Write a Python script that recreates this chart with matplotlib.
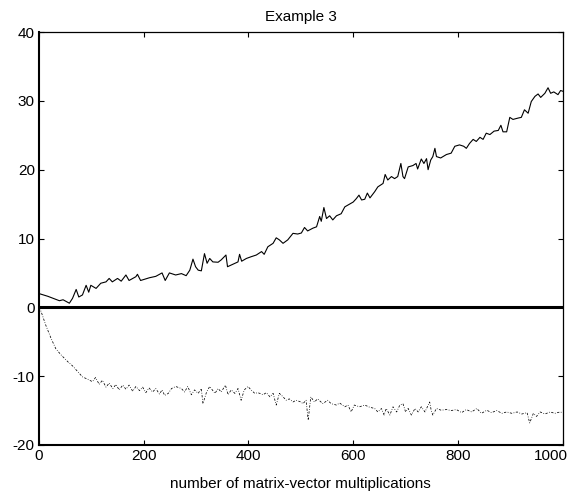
import matplotlib
matplotlib.use('Agg')
import matplotlib.pyplot as plt
import matplotlib.transforms as mtransforms

plt.rcParams['font.family'] = ['Liberation Sans', 'DejaVu Sans']
plt.rcParams['axes.unicode_minus'] = False

# upper (solid) curve
upper_x = [0, 17, 39, 46, 58, 64, 71, 76, 83, 90, 95, 99, 109, 118, 128, 134, 140, 150,
           157, 166, 172, 185, 188, 194, 211, 223, 235, 241, 249, 253, 261, 272, 281, 288,
           294, 299, 304, 310, 316, 321, 326, 332, 342, 348, 357, 360, 370, 380, 383, 387,
           396, 405, 415, 425, 430, 437, 447, 453, 459, 466, 475, 485, 494, 501, 507, 513,
           523, 530, 536, 539, 544, 549, 555, 561, 568, 577, 584, 593, 600, 606, 611, 616,
           622, 627, 632, 641, 647, 657, 661, 666, 673, 679, 685, 691, 695, 698, 705, 714,
           720, 723, 730, 735, 740, 743, 748, 752, 756, 759, 767, 778, 787, 794, 803, 811,
           816, 822, 829, 835, 842, 848, 854, 861, 869, 877, 882, 886, 893, 899, 905, 915,
           921, 927, 934, 940, 947, 953, 958, 966, 972, 977, 983, 991, 996, 1000]
upper_y = [2.0, 1.6, 0.96, 1.1, 0.6, 1.3, 2.6, 1.5, 1.8, 3.2, 2.2, 3.2, 2.75, 3.5, 3.7, 4.2,
           3.7, 4.2, 3.8, 4.7, 3.9, 4.45, 4.8, 3.9, 4.3, 4.5, 5.0, 3.9, 5.0, 4.9, 4.7, 4.9,
           4.6, 5.4, 7.0, 5.9, 5.4, 5.3, 7.8, 6.4, 7.1, 6.6, 6.55, 6.9, 7.6, 5.9, 6.25, 6.6,
           7.7, 6.7, 7.1, 7.35, 7.6, 8.1, 7.7, 8.8, 9.3, 10.1, 9.8, 9.3, 9.8, 10.75, 10.65,
           10.8, 11.6, 11.1, 11.5, 11.7, 13.2, 12.5, 14.5, 12.9, 13.3, 12.7, 13.3, 13.6, 14.6,
           15.0, 15.3, 15.8, 16.3, 15.6, 15.7, 16.6, 15.9, 16.8, 17.5, 18.0, 19.3, 18.5, 19.0,
           18.7, 19.0, 20.9, 19.0, 18.7, 20.4, 20.6, 20.9, 20.1, 21.55, 20.9, 21.6, 20.0, 21.4,
           21.9, 23.1, 21.9, 21.7, 22.2, 22.4, 23.4, 23.6, 23.4, 23.1, 23.8, 24.4, 24.1, 24.7,
           24.4, 25.3, 25.1, 25.6, 25.7, 26.45, 25.5, 25.5, 27.6, 27.3, 27.5, 27.6, 28.7, 28.2,
           29.9, 30.65, 31.0, 30.5, 31.1, 31.9, 31.1, 31.3, 30.9, 31.5, 31.4]

# lower (dash-dot) curve
lower_x = [0, 4, 13, 23, 32, 42, 55, 64, 74, 83, 93, 102, 108, 115, 121, 128, 134, 141, 147,
           153, 160, 166, 172, 179, 185, 192, 198, 204, 210, 217, 223, 230, 235, 240,
           247, 253, 261, 272, 278, 284, 291, 297, 304, 310, 313, 320, 326,
           336, 342, 348, 356, 361, 367, 374, 380, 386, 392, 399, 405, 412, 418, 428, 434, 441,
           447, 453, 459, 466, 472, 478, 485, 491, 500, 504, 510, 514, 519, 526, 532, 542, 551,
           558, 568, 574, 584, 590, 596, 602, 612, 622, 631, 641, 647, 654, 659, 663, 670, 676,
           683, 689, 695, 700, 705, 711, 718, 724, 730, 737, 746, 749, 752, 759, 768, 778, 787,
           797, 807, 816, 826, 836, 845, 855, 864, 874, 884, 893, 903, 913, 922, 932, 937, 944,
           950, 957, 966, 976, 985, 995, 1000]
lower_y = [0.0, -0.6, -2.6, -4.5, -6.0, -6.9, -7.9, -8.5, -9.35, -10.1, -10.45, -10.8, -10.2,
           -11.2, -10.6, -11.6, -11.0, -11.8, -11.2, -12.0, -11.3, -11.9, -11.3, -12.2, -11.5,
           -12.1, -11.6, -12.4, -11.7, -12.3, -11.8, -12.6, -12.0, -12.8,
           -12.5, -11.8,
           -11.5, -11.8, -12.3, -11.5, -12.7, -12.0, -12.5, -11.8, -14.0, -12.3, -11.5, -12.5,
           -11.8, -12.3, -11.3, -12.7, -12.0, -12.5, -11.8, -13.5, -12.0, -11.5, -12.0, -12.5,
           -12.4, -12.7, -12.4, -13.0, -12.5, -14.2, -12.5, -13.0, -13.5, -13.3, -13.75, -13.5,
           -13.75, -14.0, -13.5, -16.4, -13.0, -13.75, -13.3, -14.0, -13.5, -14.0, -14.2, -13.9,
           -14.45, -14.2, -15.2, -14.2, -14.45, -14.2, -14.5, -14.7, -15.2, -14.7, -15.65, -14.7,
           -15.65, -14.45, -15.2, -14.2, -14.0, -15.2, -14.7, -15.65, -14.7, -15.2, -14.45, -15.2,
           -13.75, -15.0, -15.65, -14.7, -14.95, -14.85, -15.0, -14.85, -15.3, -14.85, -15.2,
           -14.7, -15.4, -14.95, -15.3, -15.0, -15.4, -15.2, -15.4, -15.2, -15.5, -15.3, -16.8,
           -15.4, -15.85, -15.2, -15.5, -15.2, -15.4, -15.2, -15.3]

# thick zero line
zero_x = [0, 1000]
zero_y = [0, 0]

x_ticks = [0, 200, 400, 600, 800, 1000]
y_ticks = [-20, -10, 0, 10, 20, 30, 40]

fig = plt.figure(figsize=(5.75, 5.01), dpi=100)
ax = fig.add_axes([0.0678, 0.1118, 0.9108, 0.8243])

ax.plot(upper_x, upper_y, color='black', linewidth=0.8)
ax.plot(zero_x, zero_y, color='black', linewidth=2.2)
ax.plot(lower_x, lower_y, color='black', linewidth=0.55, linestyle=(0, (3, 2, 1, 2)))

ax.set_xlim(0, 1000)
ax.set_ylim(-20, 40)
ax.set_xticks(x_ticks)
ax.set_yticks(y_ticks)
ax.tick_params(direction='in', length=3.5, width=0.8, labelsize=11,
               top=True, right=True, pad=3)

for side in ['left', 'bottom']:
    ax.spines[side].set_linewidth(1.5)
for side in ['top', 'right']:
    ax.spines[side].set_linewidth(0.9)

# shift the last x label left so it stays inside the figure
offset = mtransforms.ScaledTranslation(-12 / 100, 0, fig.dpi_scale_trans)
lbl = ax.get_xticklabels()[-1]
lbl.set_transform(lbl.get_transform() + offset)

ax.set_title('Example 3', fontsize=11, pad=8)
ax.set_xlabel('number of matrix-vector multiplications', fontsize=11, labelpad=10)

fig.savefig('out.png', dpi=100)
